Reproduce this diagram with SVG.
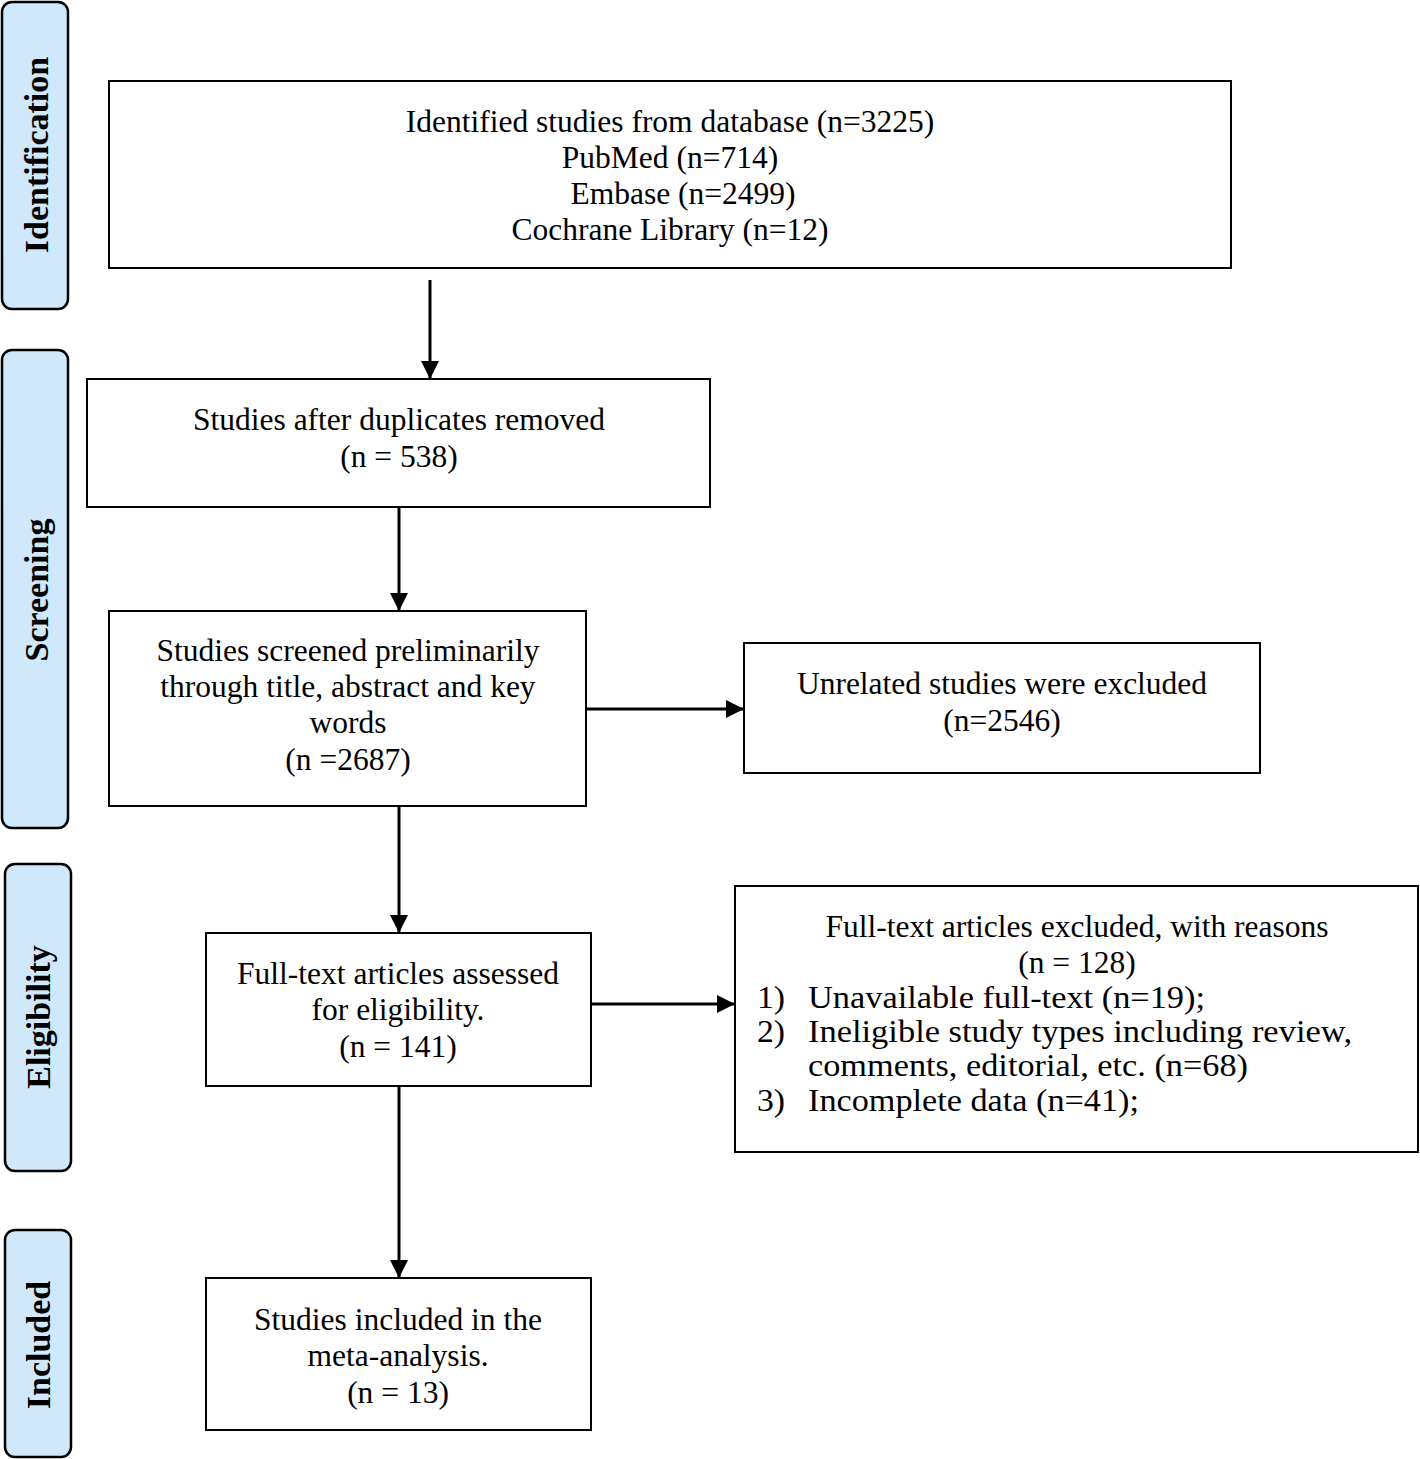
<svg xmlns="http://www.w3.org/2000/svg" width="1420" height="1459" viewBox="0 0 1420 1459">
<style>
.box{fill:#fff;stroke:#000;stroke-width:2}
.side{fill:#cfe8fb;stroke:#000;stroke-width:2.5}
.t{font-family:"Liberation Serif","Times New Roman",serif;font-size:31.5px;fill:#000}
.l{font-size:31px}
.c{text-anchor:middle}
.s{font-family:"Liberation Serif","Times New Roman",serif;font-size:34px;font-weight:bold;fill:#000;text-anchor:middle}
.ln{stroke:#000;stroke-width:3;fill:none}
</style>
<defs>
<marker id="a" viewBox="0 0 18 18" refX="18" refY="9" markerWidth="18" markerHeight="18" orient="auto" markerUnits="userSpaceOnUse">
<path d="M0,0 L18,9 L0,18 Z" fill="#000"/>
</marker>
</defs>
<rect width="1420" height="1459" fill="#fff"/>
<g id="side-identification"><rect class="side" x="2" y="2" width="66" height="307" rx="10"/><text class="s" transform="translate(48,155) rotate(-90)">Identification</text></g>
<g id="side-screening"><rect class="side" x="2" y="350" width="66" height="478" rx="10"/><text class="s" transform="translate(48,590) rotate(-90)">Screening</text></g>
<g id="side-eligibility"><rect class="side" x="5" y="864" width="66" height="307" rx="10"/><text class="s" transform="translate(50,1017) rotate(-90)">Eligibility</text></g>
<g id="side-included"><rect class="side" x="5" y="1230" width="66" height="227" rx="10"/><text class="s" transform="translate(50,1345) rotate(-90)">Included</text></g>

<g id="connectors">
<line class="ln" x1="430" y1="280" x2="430" y2="379" marker-end="url(#a)"/>
<line class="ln" x1="399" y1="507" x2="399" y2="611" marker-end="url(#a)"/>
<line class="ln" x1="586" y1="709" x2="744" y2="709" marker-end="url(#a)"/>
<line class="ln" x1="399" y1="806" x2="399" y2="933" marker-end="url(#a)"/>
<line class="ln" x1="591" y1="1004" x2="735" y2="1004" marker-end="url(#a)"/>
<line class="ln" x1="399" y1="1086" x2="399" y2="1278" marker-end="url(#a)"/>
</g>

<g id="n-identified"><rect class="box" x="109" y="81" width="1122" height="187"/>
<text class="t c" x="670" y="132">Identified studies from database (n=3225)</text>
<text class="t c" x="670" y="168">PubMed (n=714)</text>
<text class="t c" x="683" y="204">Embase (n=2499)</text>
<text class="t c" x="670" y="240">Cochrane Library (n=12)</text></g>

<g id="n-duplicates"><rect class="box" x="87" y="379" width="623" height="128"/>
<text class="t c" x="399" y="430">Studies after duplicates removed</text>
<text class="t c" x="399" y="467">(n = 538)</text></g>

<g id="n-screened"><rect class="box" x="109" y="611" width="477" height="195"/>
<text class="t c" x="348" y="661">Studies screened preliminarily</text>
<text class="t c" x="348" y="697">through title, abstract and key</text>
<text class="t c" x="348" y="733">words</text>
<text class="t c" x="348" y="770">(n =2687)</text></g>

<g id="n-unrelated"><rect class="box" x="744" y="643" width="516" height="130"/>
<text class="t c" x="1002" y="694">Unrelated studies were excluded</text>
<text class="t c" x="1002" y="731">(n=2546)</text></g>

<g id="n-fulltext"><rect class="box" x="206" y="933" width="385" height="153"/>
<text class="t c" x="398" y="984">Full-text articles assessed</text>
<text class="t c" x="398" y="1020">for eligibility.</text>
<text class="t c" x="398" y="1057">(n = 141)</text></g>

<g id="n-excluded"><rect class="box" x="735" y="886" width="683" height="266"/>
<text class="t c" x="1077" y="937">Full-text articles excluded, with reasons</text>
<text class="t c" x="1077" y="973">(n = 128)</text>
<text class="t l" x="757" y="1008" textLength="28" lengthAdjust="spacingAndGlyphs">1)</text><text class="t l" x="808" y="1008" textLength="397" lengthAdjust="spacingAndGlyphs">Unavailable full-text (n=19);</text>
<text class="t l" x="757" y="1042" textLength="28" lengthAdjust="spacingAndGlyphs">2)</text><text class="t l" x="808" y="1042" textLength="544" lengthAdjust="spacingAndGlyphs">Ineligible study types including review,</text>
<text class="t l" x="808" y="1076" textLength="440" lengthAdjust="spacingAndGlyphs">comments, editorial, etc. (n=68)</text>
<text class="t l" x="757" y="1111" textLength="28" lengthAdjust="spacingAndGlyphs">3)</text><text class="t l" x="808" y="1111" textLength="331" lengthAdjust="spacingAndGlyphs">Incomplete data (n=41);</text></g>

<g id="n-included"><rect class="box" x="206" y="1278" width="385" height="152"/>
<text class="t c" x="398" y="1330">Studies included in the</text>
<text class="t c" x="398" y="1366">meta-analysis.</text>
<text class="t c" x="398" y="1403">(n = 13)</text></g>
</svg>
